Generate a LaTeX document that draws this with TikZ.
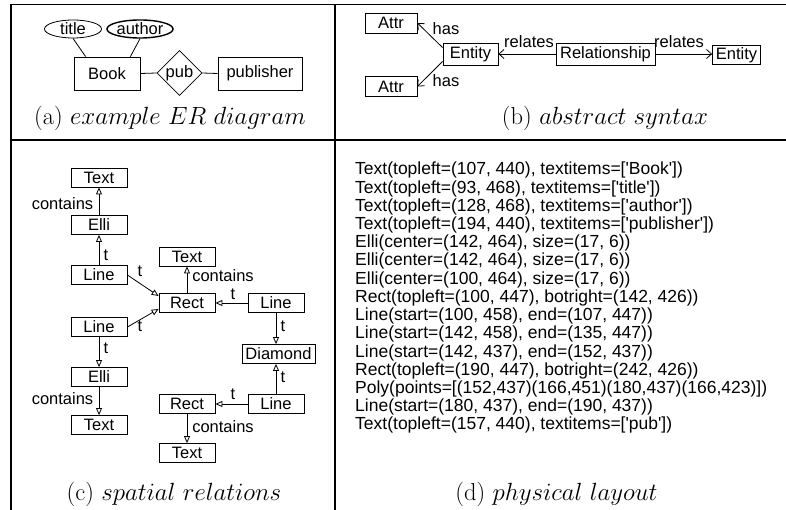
\documentclass[tikz,border=0pt]{standalone}
\usepackage{graphicx}
\usepackage{fontspec}
\newfontfamily\hv{Liberation Sans}
\usetikzlibrary{shapes.geometric,arrows.meta,calc}
\newcommand{\mycapt}[2]{(#1)~$#2$}
\newcommand{\qq}{\textquotesingle}
\begin{document}
\begin{tikzpicture}[x=1pt,y=-1pt,
  sf/.style={font=\hv\fontsize{16.5}{18}\selectfont},
  box/.style={sf, draw, line width=0.8pt, inner sep=0pt, minimum width=56pt, minimum height=19pt},
  ell/.style={sf, draw, ellipse, line width=0.8pt, inner sep=0pt, minimum height=18pt},
  lbl/.style={sf, inner sep=0pt},
  oarr/.style={-{Triangle[open,length=7pt,width=6pt]}, line width=0.8pt},
  barb/.style={-{Straight Barb[length=5pt,width=9pt]}, line width=0.8pt},
  captxt/.style={font=\fontsize{24.5}{26}\selectfont, inner sep=0pt, anchor=base},
  dtext/.style={font=\hv\fontsize{17.5}{18}\selectfont, inner sep=0pt, anchor=base west},
  frame/.style={line width=1.6pt}]
\useasboundingbox (0,0) rectangle (786,510);
% frame
\draw[frame] (11,510) -- (11,4.5) -- (786,4.5);
\draw[frame] (335,4.5) -- (335,510);
\draw[frame] (11,140) -- (786,140);

% ---------- (a) ----------
\node[ell, minimum width=57pt] (title) at (73,29) {title};
\node[ell, minimum width=54pt, line width=1.4pt] (author) at (140,29) {author};
\node[box, minimum width=66pt, minimum height=33pt] (book) at (107,73.5) {Book};
\node[sf, draw, diamond, aspect=1, minimum size=45pt, inner sep=0pt, line width=0.8pt] (pub) at (179.5,73) {pub};
\node[box, minimum width=84pt, minimum height=33pt] (publ) at (260,73.5) {publisher};
\draw[line width=0.8pt] (title.south) -- ($(book.north west)+(12,0)$);
\draw[line width=0.8pt] (author.south) -- ($(book.north east)+(-10,0)$);
\draw[line width=0.8pt] (book.east) -- (pub.west);
\draw[line width=0.8pt] (pub.east) -- (publ.west);
\node[captxt] (capa) at (170,125) {\mycapt{a}{example\ ER\ diagram}};

% ---------- (b) ----------
\node[box, minimum width=52pt, minimum height=20pt] (attr1) at (391,23) {Attr};
\node[box, minimum width=52pt, minimum height=20pt] (attr2) at (391,86.5) {Attr};
\node[box, minimum width=55pt, minimum height=22pt] (entl) at (470.5,54) {Entity};
\node[box, minimum width=99pt, minimum height=22pt] (rel) at (605.5,54) {Relationship};
\node[box, minimum width=48pt, minimum height=19pt] (entr) at (736.5,55) {Entity};
\draw[barb] ($(entl.north west)+(0,5)$) -- (attr1.east);
\draw[barb] ($(entl.south west)+(0,-4)$) -- (attr2.east);
\draw[barb] (rel.west) -- (entl.east);
\draw[barb] (rel.east) -- (entr.west |- rel.east);
\node[lbl] (has1) at (446,28.5) {has};
\node[lbl] (has2) at (446,80.5) {has};
\node[lbl] (rel1) at (529,42) {relates};
\node[lbl] (rel2) at (679,42) {relates};
\node[captxt] (capb) at (605,125) {\mycapt{b}{abstract\ syntax}};

% ---------- (c) ----------
\node[box] (t1) at (99,177.5) {Text};
\node[box] (e1) at (99,225) {Elli};
\node[box] (l1) at (99,275) {Line};
\node[box] (t2) at (187,256.5) {Text};
\node[box] (r1) at (187,303) {Rect};
\node[box] (l2) at (276,303) {Line};
\node[box] (l3) at (99,327) {Line};
\node[box, minimum width=73pt] (dm) at (278.5,354) {Diamond};
\node[box] (e2) at (99,377) {Elli};
\node[box] (t3) at (99,425) {Text};
\node[box] (r2) at (187,404) {Rect};
\node[box] (l4) at (276,404) {Line};
\node[box] (t4) at (187,453) {Text};
\draw[oarr] (e1.north) -- (t1.south);
\draw[oarr] (l1.north) -- (e1.south);
\draw[oarr] (l1.east) -- ($(r1.west)+(0,-7)$);
\draw[oarr] (l3.east) -- ($(r1.west)+(0,6)$);
\draw[oarr] (r1.north) -- (t2.south);
\draw[oarr] (l2.west) -- (r1.east);
\draw[oarr] (l2.south) -- (l2.south |- dm.north);
\draw[oarr] (l3.south) -- (e2.north);
\draw[oarr] (e2.south) -- (t3.north);
\draw[oarr] (l4.north) -- (l4.north |- dm.south);
\draw[oarr] (l4.west) -- (r2.east);
\draw[oarr] (r2.south) -- (t4.north);
\node[lbl] (c1) at (62.5,203.5) {contains};
\node[lbl] (lt1) at (106,255) {t};
\node[lbl] (lt2) at (140,271) {t};
\node[lbl] (c2) at (223,276) {contains};
\node[lbl] (lt3) at (233,294) {t};
\node[lbl] (lt4) at (140,326) {t};
\node[lbl] (lt5) at (283,326) {t};
\node[lbl] (lt6) at (106,348) {t};
\node[lbl] (c3) at (62.5,399) {contains};
\node[lbl] (lt7) at (283,377) {t};
\node[lbl] (lt8) at (233,394) {t};
\node[lbl] (c4) at (223,427) {contains};
\node[captxt] (capc) at (174,500) {\mycapt{c}{spatial\ relations}};

% ---------- (d) ----------
\node[dtext] (d1) at (355,175) {Text(topleft=(107, 440), textitems=[\qq Book\qq])};
\node[dtext] (d2) at (355,193.2) {Text(topleft=(93, 468), textitems=[\qq title\qq])};
\node[dtext] (d3) at (355,211.4) {Text(topleft=(128, 468), textitems=[\qq author\qq])};
\node[dtext] (d4) at (355,229.6) {Text(topleft=(194, 440), textitems=[\qq publisher\qq])};
\node[dtext] (d5) at (355,247.8) {Elli(center=(142, 464), size=(17, 6))};
\node[dtext] (d6) at (355,266) {Elli(center=(142, 464), size=(17, 6))};
\node[dtext] (d7) at (355,284.2) {Elli(center=(100, 464), size=(17, 6))};
\node[dtext] (d8) at (355,302.4) {Rect(topleft=(100, 447), botright=(142, 426))};
\node[dtext] (d9) at (355,320.6) {Line(start=(100, 458), end=(107, 447))};
\node[dtext] (d10) at (355,338.8) {Line(start=(142, 458), end=(135, 447))};
\node[dtext] (d11) at (355,357) {Line(start=(142, 437), end=(152, 437))};
\node[dtext] (d12) at (355,375.2) {Rect(topleft=(190, 447), botright=(242, 426))};
\node[dtext] (d13) at (355,393.4) {Poly(points=[(152,437)(166,451)(180,437)(166,423)])};
\node[dtext] (d14) at (355,411.6) {Line(start=(180, 437), end=(190, 437))};
\node[dtext] (d15) at (355,429.8) {Text(topleft=(157, 440), textitems=[\qq pub\qq])};
\node[captxt] (capd) at (556.5,500) {\mycapt{d}{physical\ layout}};
\end{tikzpicture}
\end{document}
